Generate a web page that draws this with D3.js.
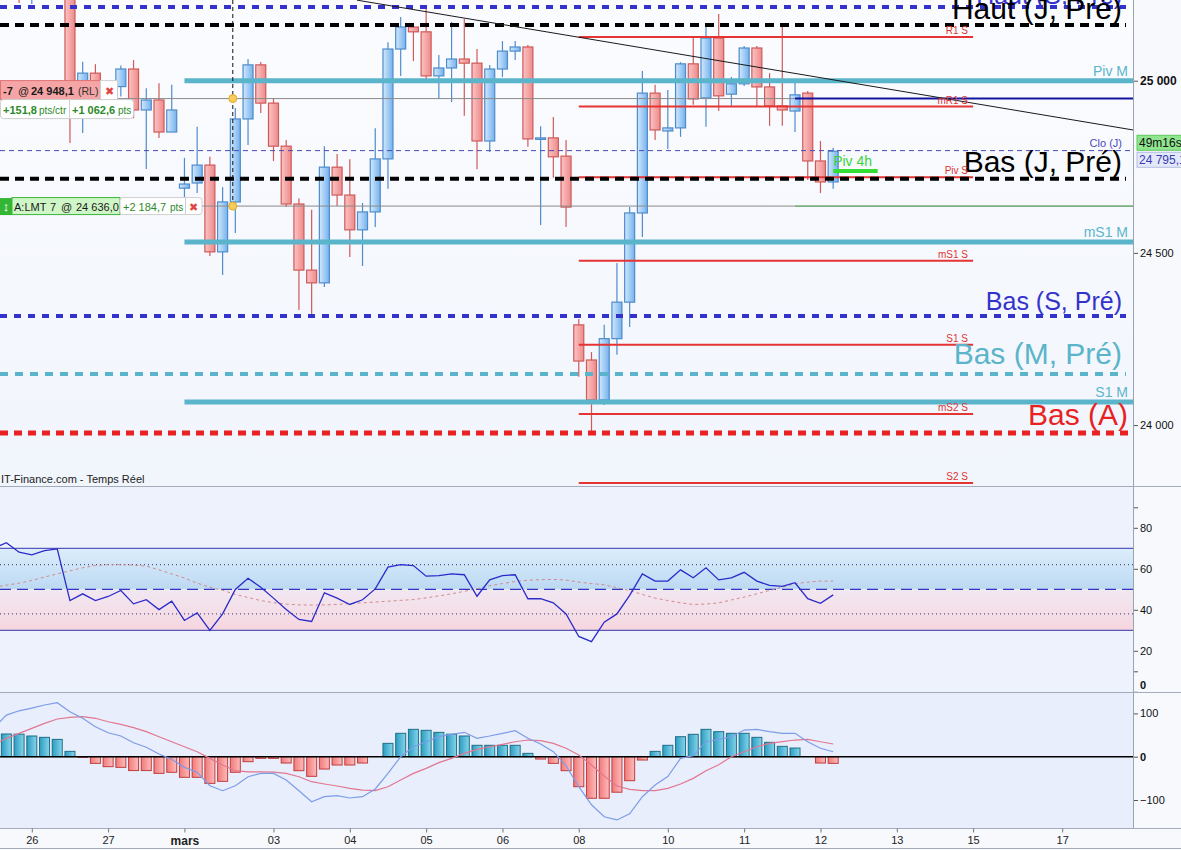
<!DOCTYPE html>
<html>
<head>
<meta charset="utf-8">
<script src="https://d3js.org/d3.v7.min.js"></script>
<style>
  body { margin: 0; background: #ffffff; }
  svg { display: block; font-family: "Liberation Sans", Arial, sans-serif; }
</style>
</head>
<body>
<div id="chart"></div>
<script>
// ---- data (4h candles, index 0 = first full candle on screen) ----
var candleStart = -5;
var opens  = [25310,25335,25290,25305,25330, 25325,24944,25022,24967,24983,25034,24915,24944,24851,24688,24703,24755,24503,24648,24889,25046,24935,24810,24642,24450,24413,24749,24668,24567,24619,24773,25092,25156,25142,25014,25037,25063,25051,24825,25034,25086,25098,24831,24834,24781,24291,24189,24073,24251,24357,24616,24964,24854,24863,25049,24950,25124,24961,24991,25095,24982,24927,24912,24964,24767,24706];
var highs  = [25355,25370,25320,25345,25360, 25340,25055,25048,24996,25044,25060,24978,24993,24988,24776,24866,24779,24691,24921,25063,25054,24950,24828,24659,24625,24810,24787,24772,24645,24862,25112,25185,25165,25211,25075,25171,25179,25092,25046,25115,25115,25104,24868,24895,24828,24308,24212,24291,24471,24633,25028,24988,24973,25054,25127,25156,25194,25011,25101,25101,25022,25159,25002,24970,24825,24805];
var lows   = [25280,25226,25223,25270,25300, 24819,24848,24892,24944,24954,24891,24744,24834,24851,24662,24674,24491,24436,24558,24813,24906,24767,24633,24334,24320,24401,24636,24488,24462,24575,24686,25014,25057,25005,24947,24938,24898,24743,24793,25011,25060,24808,24581,24718,24575,24140,23977,24058,24204,24285,24546,24828,24802,24837,24930,24866,24912,24927,24985,24924,24869,24869,24851,24712,24674,24686];
var closes = [25335,25290,25305,25330,25325, 24944,25022,24967,24982,25034,24915,24944,24851,24915,24700,24755,24503,24648,24889,25046,24935,24810,24642,24450,24413,24749,24668,24567,24619,24773,25092,25156,25142,25014,25037,25063,25051,24825,25034,25086,25098,24831,24834,24779,24633,24186,24073,24251,24357,24616,24964,24857,24863,25049,24947,25124,24956,24991,25095,24982,24927,24915,24959,24767,24706,24795.1];

// indicators start one candle earlier (partly off screen)
var indStart = -6;
var rsi = [70,72.7,68.1,66.8,68.9,69.7, 44.5,47.8,44.5,46.5,49.4,42.9,44.9,40.1,44.2,34.8,38.5,29.9,38.0,49.9,55.4,51.0,45.7,40.1,35.3,34.3,48.3,45.7,42.6,44.9,50.2,60.8,62.0,61.6,56.4,56.7,57.5,57.1,46.6,54.6,56.7,57.1,45.4,45.4,43.4,38.0,27.0,24.5,34,38,47,57.5,54,54,59.5,55.6,60.5,54.6,55.6,58.3,54.0,51.9,51.4,53.2,45.4,43.2,47.3];
var rsiMa = [51,52,53,54.3,56,57.5, 59,60.5,61.6,62,62,61.8,61.3,59.5,57.5,55.5,53,51,49.5,47.5,46,44.5,43.5,42.8,42.4,42.3,42.4,42.6,43,43.4,43.8,44.2,44.6,45,45.8,46.8,47.8,49,50.3,51.8,52.8,53.8,54.4,54.7,54.8,54.5,53.5,52.8,52.2,50.8,49.4,47.5,45.7,44.5,43.4,42.6,42.8,43.4,44.8,46.2,47.8,49.4,51,52.7,53.5,54,54];
var macd = [66,96,106,112,119.4,124.7, 104,88.7,69.3,55.4,47.8,32.3,21.7,6.2,-6,-24.6,-36,-67,-78.5,-67,-46.2,-38.5,-38.5,-53.8,-78.5,-104,-92.4,-90,-95.4,-92.4,-74.6,-38.5,0,23,34.6,46.2,51.7,56.3,42.4,47.8,54,60,42.4,29.3,11.5,-20.8,-69.3,-111,-138.6,-146,-132,-92.4,-65.4,-46,-3.8,2.3,34.6,40,46,61.6,63.2,57.8,54,54,34.6,19.4,11.5];
var signal = [27,42.4,54,65.4,77,87, 91,92.4,88.7,80.8,74.8,67,57.8,46.2,34.6,23,11.5,-3.8,-19.2,-32.3,-35,-35,-35.5,-38.5,-46.2,-57.7,-63,-67.7,-73,-77,-78.5,-69.3,-53.8,-38.5,-26.9,-13.8,-3.8,7.7,17,23,28.5,34.6,38.5,37,30.8,19.4,3.9,-19.2,-44.6,-67.7,-75.4,-78.5,-78.5,-73,-63,-50,-32.3,-18.5,0,11.5,23,30.8,34.6,38.5,40,34.6,29.3];
var histStart = -5;
var hist = [52.4,52,47.8,44.7,40, 12.3,-1.5,-15.4,-23,-24.6,-32,-32,-38.5,-36,-47.6,-47.6,-61.6,-56.9,-36,-11.5,-3.8,-3.8,-14.6,-32.3,-45.3,-28.5,-19.2,-19.2,-14.6,0,30.8,54,63.2,60.9,56.2,52,47.8,26.3,26.3,26.3,26.3,7.7,-5.4,-15.4,-32.3,-69.3,-96,-96,-82,-55.4,-7.7,12.3,26.3,46.2,51.7,63.2,57.8,54,54,44.7,33.2,23.9,20,0,-14.6,-15.4];

// levels
var extremeNames  = ["Haut (S, Pré)", "Haut (J, Pré)", "Bas (J, Pré)", "Bas (S, Pré)", "Bas (M, Pré)", "Bas (A)"];
var extremeValues = [25214, 25162, 24715, 24317, 24148, 23977];
var monthNames  = ["Piv M", "mS1 M", "S1 M"];
var monthValues = [25000, 24532, 24067];
var weekNames  = ["R1 S", "mR1 S", "Piv S", "mS1 S", "S1 S", "mS2 S", "S2 S"];
var weekValues = [25127, 24925, 24720, 24477, 24233, 24032, 23832];
var closePrevDay = 24797;
var piv4h = 24738;
var orderPrices = [24948.1, 24636.0];
var orderQty = [-7, 7];
var orderGain = ["+151,8", "+1\u00a0062,6", "+2\u00a0184,7"];
var lastPrice = 24795.1;
var trendIdx = [22.56, 83.57];
var trendPrice = [25234, 24857];

var priceTicks = [24000, 24500, 25000];
var rsiTicks = [0, 20, 40, 60, 80];
var macdTicks = [-100, 0, 100];
var dateTickIdx = [-3, 3, 9, 16, 22, 28, 34, 40, 47, 53, 59, 65, 71, 78];
var dateLabels = ["26", "27", "mars", "03", "04", "05", "06", "08", "10", "11", "12", "13", "15", "17"];

// ---- layout ----
var W = 1181, H = 850, plotR = 1133;
var main = {top: 0, bottom: 486}, rsiP = {top: 487, bottom: 692}, macdP = {top: 693, bottom: 828};

var frLocale = d3.formatLocale({decimal: ",", thousands: "\u00a0", grouping: [3], currency: ["", ""]});
var fmtInt = frLocale.format(",");
var fmt1 = frLocale.format(",.1f");

var x = d3.scaleLinear().domain([-5.5, 83.57]).range([0, plotR]);
var y = d3.scaleLinear().domain([23823.1, 25234.4]).range([486, 0]);
var yR = d3.scaleLinear().domain([0, 100]).range([691.8, 486.8]);
var yM = d3.scaleLinear().domain([-100, 100]).range([800, 713.4]);

var svg = d3.select("#chart").append("svg").attr("width", W).attr("height", H);
var defs = svg.append("defs");

function hGrad(id, c1, c2) {
  var g = defs.append("linearGradient").attr("id", id).attr("x1", 0).attr("x2", 1).attr("y1", 0).attr("y2", 0);
  g.append("stop").attr("offset", "0%").attr("stop-color", c1);
  g.append("stop").attr("offset", "100%").attr("stop-color", c2);
}
function vGrad(id, c1, c2) {
  var g = defs.append("linearGradient").attr("id", id).attr("x1", 0).attr("x2", 0).attr("y1", 0).attr("y2", 1);
  g.append("stop").attr("offset", "0%").attr("stop-color", c1);
  g.append("stop").attr("offset", "100%").attr("stop-color", c2);
}
hGrad("gUp", "#d2e8fc", "#74b2ee");
hGrad("gDn", "#fbc4c4", "#ee8a8a");
hGrad("hUp", "#2b9dc2", "#86d4ea");
hGrad("hDn", "#f27a7a", "#fcbcbc");
vGrad("gMain", "#fbfcff", "#f1f5fc");
vGrad("rsiBlue", "#dcedfb", "#bcd9f3");
vGrad("rsiPink", "#f1e8f2", "#f6d6df");

function clip(id, y0, y1) {
  defs.append("clipPath").attr("id", id).append("rect").attr("x", 0).attr("y", y0).attr("width", plotR).attr("height", y1 - y0);
}
clip("cMain", main.top, main.bottom);
clip("cRsi", rsiP.top, rsiP.bottom);
clip("cMacd", macdP.top, macdP.bottom);

// backgrounds
svg.append("rect").attr("width", W).attr("height", H).attr("fill", "#f7f9fd");
svg.append("rect").attr("x", 0).attr("y", main.top).attr("width", plotR).attr("height", main.bottom).attr("fill", "url(#gMain)");
svg.append("rect").attr("x", 0).attr("y", rsiP.top).attr("width", plotR).attr("height", rsiP.bottom - rsiP.top).attr("fill", "#edf2fc");
svg.append("rect").attr("x", 0).attr("y", macdP.top).attr("width", plotR).attr("height", macdP.bottom - macdP.top).attr("fill", "#e8eefb");

// ---- main panel ----
var gMain = svg.append("g").attr("clip-path", "url(#cMain)");

var candles = opens.map(function(o, k) {
  return {i: candleStart + k, o: o, h: highs[k], l: lows[k], c: closes[k]};
});
var bw = 10;
var cg = gMain.append("g");
cg.selectAll("line.wick").data(candles).enter().append("line")
  .attr("x1", function(d) { return x(d.i); }).attr("x2", function(d) { return x(d.i); })
  .attr("y1", function(d) { return y(d.h); }).attr("y2", function(d) { return y(d.l); })
  .attr("stroke", function(d) { return d.c >= d.o ? "#4f8ccb" : "#cf5a5a"; })
  .attr("stroke-width", 1.2);
cg.selectAll("rect.body").data(candles).enter().append("rect")
  .attr("x", function(d) { return x(d.i) - bw / 2; })
  .attr("y", function(d) { return y(Math.max(d.o, d.c)); })
  .attr("width", bw)
  .attr("height", function(d) { return Math.max(1.5, Math.abs(y(d.o) - y(d.c))); })
  .attr("fill", function(d) { return d.c >= d.o ? "url(#gUp)" : "url(#gDn)"; })
  .attr("stroke", function(d) { return d.c >= d.o ? "#4f8ccb" : "#cf5a5a"; })
  .attr("stroke-width", 1.2);

// thin lines: previous close, order lines
gMain.append("line").attr("x1", 0).attr("x2", plotR).attr("y1", y(closePrevDay)).attr("y2", y(closePrevDay))
  .attr("stroke", "#4a4ab4").attr("stroke-width", 1).attr("stroke-dasharray", "5,4");
orderPrices.forEach(function(p, k) {
  gMain.append("line").attr("x1", 0).attr("x2", x(57)).attr("y1", y(p)).attr("y2", y(p))
    .attr("stroke", "#8a8a8a").attr("stroke-width", 1);
  gMain.append("line").attr("x1", x(57)).attr("x2", plotR).attr("y1", y(p)).attr("y2", y(p))
    .attr("stroke", k === 0 ? "#14149c" : "#1d7a1d").attr("stroke-width", k === 0 ? 2 : 1);
});

// monthly pivots (cyan, thick)
monthValues.forEach(function(v) {
  gMain.append("line").attr("x1", x(9)).attr("x2", plotR).attr("y1", y(v)).attr("y2", y(v))
    .attr("stroke", "#5bb5ca").attr("stroke-width", 5);
});
// weekly pivots (red)
weekValues.forEach(function(v) {
  gMain.append("line").attr("x1", x(40)).attr("x2", x(71)).attr("y1", y(v)).attr("y2", y(v))
    .attr("stroke", "#e53434").attr("stroke-width", 2);
});
// extremes (thick dashed)
var extremeStyle = [
  {c: "#3333cc", w: 4, dash: "7,7", size: 25, dy: -3, xr: 1122},
  {c: "#000000", w: 4, dash: "9,6", size: 30, dy: -6, xr: 1122},
  {c: "#000000", w: 4, dash: "9,6", size: 30, dy: -7, xr: 1122},
  {c: "#3333cc", w: 4, dash: "7,7", size: 25, dy: -6, xr: 1122},
  {c: "#5bb5ca", w: 4, dash: "8,7", size: 30, dy: -10, xr: 1122},
  {c: "#e82222", w: 5, dash: "8,6", size: 30, dy: -8, xr: 1128}
];
extremeValues.forEach(function(v, k) {
  gMain.append("line").attr("x1", 0).attr("x2", extremeStyle[k].xr + 4).attr("y1", y(v)).attr("y2", y(v))
    .attr("stroke", extremeStyle[k].c).attr("stroke-width", extremeStyle[k].w)
    .attr("stroke-dasharray", extremeStyle[k].dash);
});

// trend line
gMain.append("line")
  .attr("x1", x(trendIdx[0])).attr("y1", y(trendPrice[0]))
  .attr("x2", x(trendIdx[1])).attr("y2", y(trendPrice[1]))
  .attr("stroke", "#1a1a1a").attr("stroke-width", 1);

// pivot 4h
gMain.append("line").attr("x1", x(60)).attr("x2", x(63.5)).attr("y1", y(piv4h)).attr("y2", y(piv4h))
  .attr("stroke", "#33dd33").attr("stroke-width", 4);
gMain.append("text").attr("x", x(60)).attr("y", y(piv4h) - 5).text("Piv 4h")
  .attr("font-size", 14).attr("fill", "#3ad43a");

// vertical marker + dots
var vx = x(12.8);
gMain.append("line").attr("x1", vx).attr("x2", vx).attr("y1", 0).attr("y2", y(orderPrices[1]))
  .attr("stroke", "#111").attr("stroke-width", 1).attr("stroke-dasharray", "4,3");
orderPrices.forEach(function(p) {
  gMain.append("circle").attr("cx", vx).attr("cy", y(p)).attr("r", 4)
    .attr("fill", "#f6cd5a").attr("stroke", "#e3a92c").attr("stroke-width", 1);
});

// labels for levels
var lab = gMain.append("g");
extremeValues.forEach(function(v, k) {
  lab.append("text").attr("x", extremeStyle[k].xr).attr("y", y(v) + extremeStyle[k].dy)
    .attr("text-anchor", "end").attr("font-size", extremeStyle[k].size)
    .attr("fill", extremeStyle[k].c).text(extremeNames[k]);
});
monthValues.forEach(function(v, k) {
  lab.append("text").attr("x", 1128).attr("y", y(v) - 5).attr("text-anchor", "end")
    .attr("font-size", 14).attr("fill", "#5bb5ca").text(monthNames[k]);
});
weekValues.forEach(function(v, k) {
  lab.append("text").attr("x", 968).attr("y", y(v) - 3).attr("text-anchor", "end")
    .attr("font-size", 10).attr("fill", "#e03434").text(weekNames[k]);
});
lab.append("text").attr("x", 1122).attr("y", y(closePrevDay) - 4).attr("text-anchor", "end")
  .attr("font-size", 11).attr("fill", "#4a4ab4").text("Clo (J)");
lab.append("text").attr("x", 1).attr("y", 483).attr("font-size", 11).attr("fill", "#222")
  .text("IT-Finance.com - Temps Réel");

// order tags
var o1 = y(orderPrices[0]), o2 = y(orderPrices[1]);
var tags = svg.append("g");
function tagText(xp, yp, txt, size, bold, col) {
  return tags.append("text").attr("x", xp).attr("y", yp).attr("font-size", size)
    .attr("font-weight", bold ? "bold" : "normal").attr("fill", col).text(txt);
}
tags.append("rect").attr("x", 0.5).attr("y", o1 - 18).attr("width", 100).attr("height", 19)
  .attr("fill", "#f5a5a5").attr("stroke", "#e07272");
tagText(3, o1 - 4, String(orderQty[0]), 11, true, "#1a1a1a");
tagText(18, o1 - 4, "@", 11, false, "#1a1a1a");
tagText(31, o1 - 4, fmt1(orderPrices[0]), 11, true, "#1a1a1a");
tagText(78, o1 - 4, "(RL)", 10.5, false, "#333");
tags.append("rect").attr("x", 100.5).attr("y", o1 - 18).attr("width", 17).attr("height", 19)
  .attr("fill", "#fff").attr("stroke", "#cfcfcf");
tags.append("text").attr("x", 109).attr("y", o1 - 4).attr("text-anchor", "middle").attr("font-size", 11)
  .attr("fill", "#e04545").text("\u2716");
tags.append("rect").attr("x", 0.5).attr("y", o1 + 1).attr("width", 133).attr("height", 19).attr("rx", 3)
  .attr("fill", "#fff").attr("stroke", "#cfcfcf");
tags.append("line").attr("x1", 69.5).attr("x2", 69.5).attr("y1", o1 + 1).attr("y2", o1 + 20).attr("stroke", "#cfcfcf");
tagText(3, o1 + 15, orderGain[0], 11, true, "#2b8a2b");
tagText(39, o1 + 15, "pts/ctr", 10, false, "#2b8a2b");
tagText(72, o1 + 15, orderGain[1], 11, true, "#2b8a2b");
tagText(118, o1 + 15, "pts", 10, false, "#2b8a2b");

tags.append("rect").attr("x", 0).attr("y", o2 - 8).attr("width", 12).attr("height", 17).attr("fill", "#33b633");
tags.append("text").attr("x", 6).attr("y", o2 + 5).attr("text-anchor", "middle").attr("font-size", 13)
  .attr("font-weight", "bold").attr("fill", "#fff").text("\u2195");
tags.append("rect").attr("x", 12).attr("y", o2 - 8.5).attr("width", 108).attr("height", 17)
  .attr("fill", "#cff6c6").attr("stroke", "#3cb43c");
tagText(14, o2 + 5, "A:LMT", 11, false, "#1a1a1a");
tagText(50, o2 + 5, String(orderQty[1]), 11, false, "#1a1a1a");
tagText(61, o2 + 5, "@", 11, false, "#1a1a1a");
tagText(76, o2 + 5, fmt1(orderPrices[1]), 11, false, "#1a1a1a");
tags.append("rect").attr("x", 120).attr("y", o2 - 8.5).attr("width", 82).attr("height", 17).attr("rx", 3)
  .attr("fill", "#fff").attr("stroke", "#cfcfcf");
tags.append("line").attr("x1", 185.5).attr("x2", 185.5).attr("y1", o2 - 8.5).attr("y2", o2 + 8.5).attr("stroke", "#cfcfcf");
tagText(123, o2 + 5, orderGain[2], 11, false, "#2b8a2b");
tagText(170, o2 + 5, "pts", 10, false, "#2b8a2b");
tags.append("text").attr("x", 193.5).attr("y", o2 + 5).attr("text-anchor", "middle").attr("font-size", 11)
  .attr("fill", "#e04545").text("\u2716");

// price axis
var pa = svg.append("g").attr("transform", "translate(" + plotR + ",0)")
  .call(d3.axisRight(y).tickValues(priceTicks).tickSize(5).tickSizeOuter(0).tickFormat(fmtInt));
pa.select(".domain").attr("stroke", "#9aa3b3");
pa.selectAll(".tick line").attr("stroke", "#555");
pa.selectAll(".tick text").attr("x", 7).attr("fill", "#111")
  .attr("font-family", "Liberation Sans, Arial, sans-serif")
  .attr("font-weight", function(d) { return d === 25000 ? "bold" : "normal"; })
  .attr("font-size", function(d) { return d === 25000 ? 12 : 11; });

// current price boxes
svg.append("rect").attr("x", 1137).attr("y", y(lastPrice) - 16).attr("width", 45).attr("height", 15)
  .attr("fill", "#8fe68f").attr("stroke", "#5fc85f");
svg.append("text").attr("x", 1139).attr("y", y(lastPrice) - 4).attr("font-size", 12).attr("fill", "#111").text("49m16s");
svg.append("rect").attr("x", 1137).attr("y", y(lastPrice) + 1).attr("width", 45).attr("height", 15)
  .attr("fill", "#e3e9fb").attr("stroke", "#b5bde0");
svg.append("text").attr("x", 1139).attr("y", y(lastPrice) + 13).attr("font-size", 12).attr("fill", "#3a3ab4").text(fmt1(lastPrice));

// ---- RSI panel ----
var gR = svg.append("g").attr("clip-path", "url(#cRsi)");
gR.append("rect").attr("x", 0).attr("width", plotR).attr("y", yR(70)).attr("height", yR(50) - yR(70)).attr("fill", "url(#rsiBlue)");
gR.append("rect").attr("x", 0).attr("width", plotR).attr("y", yR(50)).attr("height", yR(30) - yR(50)).attr("fill", "url(#rsiPink)");
[70, 30].forEach(function(v) {
  gR.append("line").attr("x1", 0).attr("x2", plotR).attr("y1", yR(v)).attr("y2", yR(v)).attr("stroke", "#3434b0").attr("stroke-width", 1);
});
[62, 38].forEach(function(v) {
  gR.append("line").attr("x1", 0).attr("x2", plotR).attr("y1", yR(v)).attr("y2", yR(v)).attr("stroke", "#30306a").attr("stroke-width", 1).attr("stroke-dasharray", "1,3");
});
gR.append("line").attr("x1", 0).attr("x2", plotR).attr("y1", yR(50)).attr("y2", yR(50)).attr("stroke", "#3434c0").attr("stroke-width", 1.3).attr("stroke-dasharray", "11,6");

var lineR = d3.line().x(function(d, k) { return x(indStart + k); }).y(function(d) { return yR(d); });
gR.append("path").datum(rsiMa).attr("d", lineR).attr("fill", "none").attr("stroke", "#d48a8a").attr("stroke-width", 1).attr("stroke-dasharray", "3,3");
gR.append("path").datum(rsi).attr("d", lineR).attr("fill", "none").attr("stroke", "#2a2acb").attr("stroke-width", 1.3);

var ra = svg.append("g").attr("transform", "translate(" + plotR + ",0)")
  .call(d3.axisRight(yR).tickValues(rsiTicks.concat([10, 90])).tickSize(5).tickSizeOuter(0)
    .tickFormat(function(d) { return rsiTicks.indexOf(d) >= 0 ? d : ""; }));
ra.select(".domain").attr("stroke", "#9aa3b3");
ra.selectAll(".tick line").attr("stroke", "#555");
ra.selectAll(".tick text").attr("x", 7).attr("font-size", 11).attr("fill", "#111")
  .attr("font-family", "Liberation Sans, Arial, sans-serif")
  .attr("font-weight", function(d) { return d === 0 ? "bold" : "normal"; })
  .attr("dy", function(d) { return d === 0 ? "-0.3em" : "0.32em"; });

// ---- MACD panel ----
var gM = svg.append("g").attr("clip-path", "url(#cMacd)");
var bars = hist.map(function(v, k) { return {i: histStart + k, v: v}; }).filter(function(d) { return d.v !== 0; });
gM.selectAll("rect").data(bars).enter().append("rect")
  .attr("x", function(d) { return x(d.i) - 5; })
  .attr("y", function(d) { return yM(Math.max(0, d.v)); })
  .attr("width", 10)
  .attr("height", function(d) { return Math.abs(yM(d.v) - yM(0)); })
  .attr("fill", function(d) { return d.v > 0 ? "url(#hUp)" : "url(#hDn)"; })
  .attr("stroke", function(d) { return d.v > 0 ? "#1f6f88" : "#c23d3d"; })
  .attr("stroke-width", 1);
gM.append("line").attr("x1", 0).attr("x2", plotR).attr("y1", yM(0)).attr("y2", yM(0)).attr("stroke", "#000").attr("stroke-width", 1.5);
var lineM = d3.line().x(function(d, k) { return x(indStart + k); }).y(function(d) { return yM(d); });
gM.append("path").datum(signal).attr("d", lineM).attr("fill", "none").attr("stroke", "#e27790").attr("stroke-width", 1.2);
gM.append("path").datum(macd).attr("d", lineM).attr("fill", "none").attr("stroke", "#7d9ce8").attr("stroke-width", 1.2);

var ma = svg.append("g").attr("transform", "translate(" + plotR + ",0)")
  .call(d3.axisRight(yM).tickValues(macdTicks).tickSize(5).tickSizeOuter(0));
ma.select(".domain").attr("stroke", "#9aa3b3");
ma.selectAll(".tick line").attr("stroke", "#555");
ma.selectAll(".tick text").attr("x", 7).attr("font-size", 11).attr("fill", "#111")
  .attr("font-family", "Liberation Sans, Arial, sans-serif")
  .attr("font-weight", function(d) { return d === 0 ? "bold" : "normal"; });
svg.append("line").attr("x1", plotR + 0.5).attr("x2", plotR + 0.5).attr("y1", 0).attr("y2", macdP.bottom).attr("stroke", "#9aa3b3");

// panel separators
[main.bottom, rsiP.bottom, macdP.bottom, 848].forEach(function(v) {
  svg.append("line").attr("x1", 0).attr("x2", W).attr("y1", v + 0.5).attr("y2", v + 0.5).attr("stroke", "#a4acbb");
});

// date axis
var da = svg.append("g").attr("transform", "translate(0," + (macdP.bottom + 0.5) + ")")
  .call(d3.axisBottom(x).tickValues(dateTickIdx).tickSize(4).tickSizeOuter(0)
    .tickFormat(function(d, k) { return dateLabels[k]; }));
da.select(".domain").remove();
da.selectAll(".tick line").attr("stroke", "#777");
da.selectAll(".tick text").attr("y", 8).attr("fill", "#222")
  .attr("font-family", "Liberation Sans, Arial, sans-serif")
  .attr("font-weight", function(d, k) { return dateLabels[k] === "mars" ? "bold" : "normal"; })
  .attr("font-size", function(d, k) { return dateLabels[k] === "mars" ? 12 : 11; });
</script>
</body>
</html>
